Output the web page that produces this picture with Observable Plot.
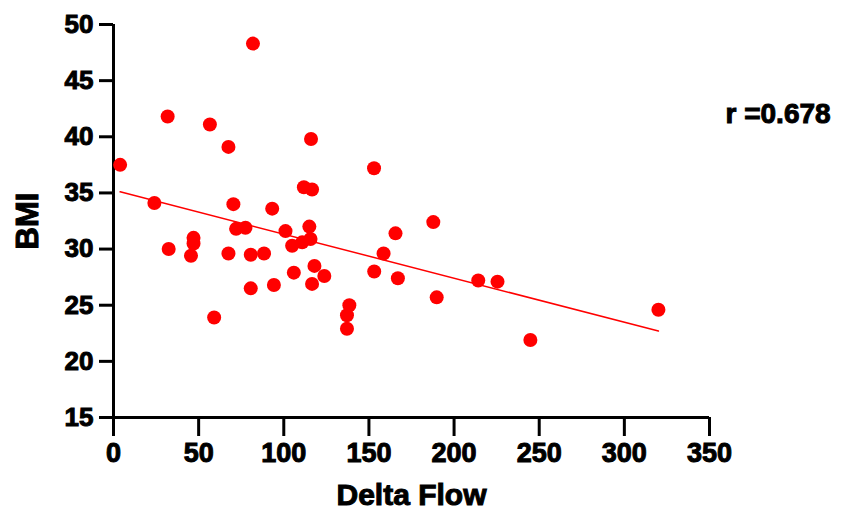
<!DOCTYPE html>
<html>
<head>
<meta charset="utf-8">
<script src="https://cdn.jsdelivr.net/npm/d3@7"></script>
<script src="https://cdn.jsdelivr.net/npm/@observablehq/plot@0.6"></script>
<style>
  html, body { margin: 0; padding: 0; background: #fff; }
  #chart svg text { stroke: #000; stroke-width: 1px; }
</style>
</head>
<body>
<div id="chart"></div>
<script>
// Delta Flow (x) and BMI (y)
const deltaFlow = [3.9, 24, 31.8, 32.4, 47, 47, 45.5, 56.6, 59.1, 67.5, 70.4, 67.5, 72, 77.5, 80.6, 80.6, 81.9, 88.4, 93.2, 94.2, 101, 104.9, 105.9, 110.8, 111.8, 115.7, 115, 116, 116.6, 116.6, 118, 123.8, 137.1, 137.1, 138.5, 153, 153.1, 158.6, 165.6, 167, 187.8, 189.8, 214.2, 225.5, 244.8, 320];
const bmi = [37.5, 34.1, 41.8, 30.0, 31.0, 30.5, 29.4, 41.1, 23.9, 39.1, 34.0, 29.6, 31.8, 31.9, 29.5, 26.5, 48.3, 29.6, 33.6, 26.8, 31.6, 30.3, 27.9, 30.6, 35.5, 30.9, 32.0, 39.8, 35.3, 26.9, 28.5, 27.6, 22.9, 24.1, 25.0, 37.2, 28.0, 29.6, 31.4, 27.4, 32.4, 25.7, 27.2, 27.1, 21.9, 24.6];
// regression line end points
const fitX = [3.9, 320];
const fitY = [35.1, 22.7];
const xTicks = [0, 50, 100, 150, 200, 250, 300, 350];
const yTicks = [15, 20, 25, 30, 35, 40, 45, 50];
const xTitle = "Delta Flow";
const yTitle = "BMI";
const rText = "r =0.678";

const points = deltaFlow.map((x, i) => ({x, y: bmi[i]}));
const fit = fitX.map((x, i) => ({x, y: fitY[i]}));

const chart = Plot.plot({
  width: 842,
  height: 513,
  marginLeft: 113,
  marginRight: 133,
  marginTop: 24,
  marginBottom: 96,
  style: {fontFamily: "'Liberation Sans', Arial, sans-serif", fontWeight: "bold", color: "#000", background: "#fff"},
  x: {domain: [0, 350]},
  y: {domain: [15, 50]},
  marks: [
    Plot.axisX({ticks: xTicks, tickSize: 19, tickPadding: 6, strokeWidth: 3, fontSize: 27, label: null, tickFormat: d => String(d)}),
    Plot.axisY({ticks: yTicks, tickSize: 14, tickPadding: 6, strokeWidth: 3, fontSize: 26, label: null, tickFormat: d => String(d)}),
    Plot.ruleX([0], {y1: 15, y2: 50, stroke: "#000", strokeWidth: 3}),
    Plot.ruleY([15], {x1: 0, x2: 350, stroke: "#000", strokeWidth: 3}),
    Plot.line(fit, {x: "x", y: "y", stroke: "#ff0000", strokeWidth: 1.5}),
    Plot.dot(points, {x: "x", y: "y", r: 7, fill: "#ff0000", stroke: "none"}),
    Plot.text([yTitle], {frameAnchor: "left", dx: -85, rotate: -90, fontSize: 31, fontWeight: "bold", lineAnchor: "middle", textAnchor: "middle"}),
    Plot.text([xTitle], {frameAnchor: "bottom", dy: 78, fontSize: 30, fontWeight: "bold", lineAnchor: "middle", textAnchor: "middle"}),
    Plot.text([rText], {frameAnchor: "top-right", dx: 16, dy: 90, fontSize: 28, fontWeight: "bold", lineAnchor: "middle", textAnchor: "start"})
  ]
});
document.getElementById("chart").appendChild(chart);
</script>
</body>
</html>
